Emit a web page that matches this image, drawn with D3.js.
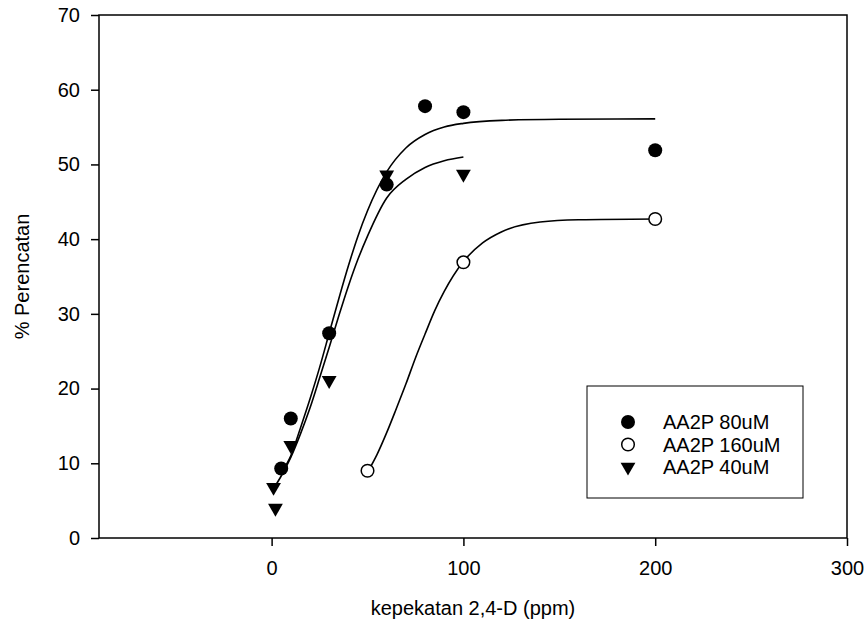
<!DOCTYPE html>
<html>
<head>
<meta charset="utf-8">
<script src="https://cdn.jsdelivr.net/npm/d3@7"></script>
<style>
body { margin: 0; background: #fff; }
#chart { width: 867px; height: 629px; }
text { font-family: "Liberation Sans", Arial, sans-serif; fill: #000; }
</style>
</head>
<body>
<div id="chart"></div>
<script>
// measured points
var dose80 = [5, 10, 30, 60, 80, 100, 200]
var inhib80 = [9.3, 16, 27.4, 47.3, 57.8, 57, 51.9]
var dose160 = [50, 100, 200]
var inhib160 = [9, 36.9, 42.7]
var dose40 = [1, 2, 10, 30, 60, 100]
var inhib40 = [6.8, 4.0, 12.4, 21.1, 48.6, 48.7]

// fitted lines
var fitX80 = [5, 10, 15, 20, 25, 30, 35, 40, 45, 50, 60, 70, 80, 90, 100, 120, 150, 200]
var fitY80 = [8.7, 11.0, 14.7, 18.6, 22.8, 27.4, 32.0, 36.4, 40.4, 43.8, 49.0, 52.2, 54.0, 55.0, 55.5, 55.9, 56.05, 56.1]
var fitX160 = [50, 55, 60, 65, 70, 75, 80, 85, 90, 100, 110, 120, 140, 160, 200]
var fitY160 = [8.8, 11.2, 14.1, 17.3, 20.6, 24.1, 27.3, 30.4, 33.0, 37.0, 39.5, 41.0, 42.3, 42.6, 42.7]
var fitX40 = [1, 5, 10, 15, 20, 25, 30, 35, 40, 45, 50, 60, 70, 80, 90, 100]
var fitY40 = [6.6, 8.3, 10.8, 13.9, 17.4, 21.4, 25.5, 29.7, 33.7, 37.3, 40.4, 45.5, 48.0, 49.6, 50.5, 51.0]

var xTicks = [0, 100, 200, 300]
var yTicks = [0, 10, 20, 30, 40, 50, 60, 70]
var seriesNames = ['AA2P 80uM', 'AA2P 160uM', 'AA2P 40uM']

var margin = { top: 15, right: 20, bottom: 91, left: 99 }
var width = 867 - margin.left - margin.right
var height = 629 - margin.top - margin.bottom

var xScale = d3.scaleLinear().domain([-90, 300]).range([0, width])
var yScale = d3.scaleLinear().domain([0, 70]).range([height, 0])

var svg = d3.select('#chart').append('svg')
	.attr('width', 867)
	.attr('height', 629)

var chart = svg.append('g')
	.attr('transform', 'translate(' + margin.left + ',' + margin.top + ')')

var xAxis = d3.axisBottom(xScale).tickValues(xTicks).tickSize(8).tickPadding(15).tickSizeOuter(0)
var yAxis = d3.axisLeft(yScale).tickValues(yTicks).tickSize(8).tickPadding(11).tickSizeOuter(0)

var gx = chart.append('g')
	.attr('transform', 'translate(0,' + height + ')')
	.call(xAxis)
var gy = chart.append('g').call(yAxis)

chart.selectAll('.domain').remove()
chart.selectAll('.tick line').attr('stroke', '#000').attr('stroke-width', 1.5)
chart.selectAll('.tick text').style('font-size', '20px').style('font-family', '"Liberation Sans", Arial, sans-serif')

chart.append('rect')
	.attr('x', 0)
	.attr('y', 0)
	.attr('width', width)
	.attr('height', height)
	.attr('fill', 'none')
	.attr('stroke', '#000')
	.attr('stroke-width', 1.5)

svg.append('text')
	.attr('x', margin.left + width / 2)
	.attr('y', 615)
	.attr('text-anchor', 'middle')
	.style('font-size', '20px')
	.text('kepekatan 2,4-D (ppm)')

svg.append('text')
	.attr('transform', 'translate(29,' + (margin.top + height / 2) + ') rotate(-90)')
	.attr('text-anchor', 'middle')
	.style('font-size', '20px')
	.text('% Perencatan')

var line = d3.line()
	.x(function(d) { return xScale(d[0]) })
	.y(function(d) { return yScale(d[1]) })
	.curve(d3.curveMonotoneX)

var fits = [[fitX80, fitY80], [fitX160, fitY160], [fitX40, fitY40]]
fits.forEach(function(f) {
	chart.append('path')
		.datum(d3.zip(f[0], f[1]))
		.attr('fill', 'none')
		.attr('stroke', '#000')
		.attr('stroke-width', 1.6)
		.attr('d', line)
})

var tri = d3.symbol().type(d3.symbolTriangle).size(95)

function drawMarker(g, kind) {
	if (kind === 0) {
		g.append('circle').attr('r', 7).attr('fill', '#000')
	} else if (kind === 1) {
		g.append('circle').attr('r', 6.3).attr('fill', '#fff').attr('stroke', '#000').attr('stroke-width', 1.5)
	} else {
		g.append('path').attr('d', tri).attr('transform', 'rotate(180)').attr('fill', '#000')
	}
}

var points = [[dose80, inhib80], [dose160, inhib160], [dose40, inhib40]]
points.forEach(function(p, k) {
	chart.selectAll('.pt' + k).data(d3.zip(p[0], p[1]))
		.enter().append('g')
		.attr('class', 'pt' + k)
		.attr('transform', function(d) { return 'translate(' + xScale(d[0]) + ',' + yScale(d[1]) + ')' })
		.each(function() { drawMarker(d3.select(this), k) })
})

var legend = svg.append('g').attr('transform', 'translate(587,386)')
legend.append('rect')
	.attr('width', 216)
	.attr('height', 112)
	.attr('fill', '#fff')
	.attr('stroke', '#000')
	.attr('stroke-width', 1)
seriesNames.forEach(function(name, i) {
	var row = legend.append('g').attr('transform', 'translate(41,' + (36 + i * 22.5) + ')')
	drawMarker(row, i)
	row.append('text')
		.attr('x', 35)
		.attr('dy', '0.35em')
		.style('font-size', '20px')
		.text(name)
})
</script>
</body>
</html>
